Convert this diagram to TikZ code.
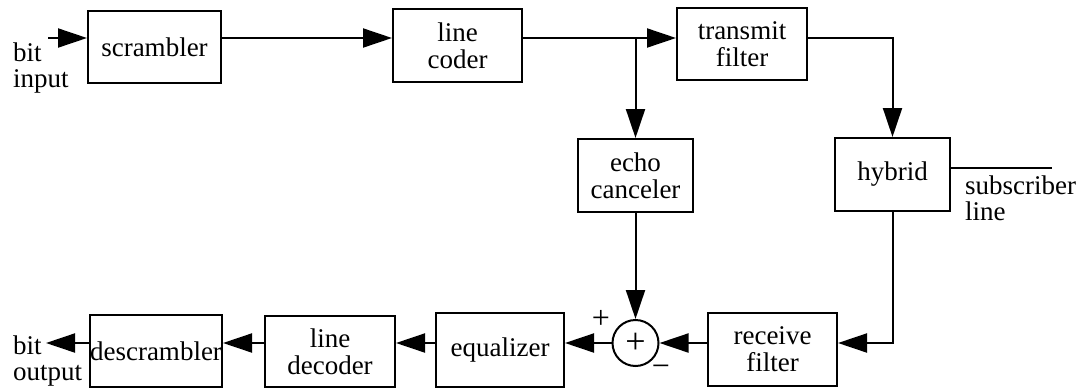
\documentclass[tikz,border=0pt]{standalone}
\usepackage{fontspec}
\setmainfont{Liberation Serif}
\usetikzlibrary{arrows.meta,calc}
\begin{document}
\begin{tikzpicture}[x=1pt,y=-1pt,
  blk/.style={draw,line width=2pt,inner sep=0pt,align=center,
    font=\fontsize{27}{27}\selectfont},
  sumnode/.style={draw,circle,line width=2pt,inner sep=0pt,minimum size=46pt,
    font=\fontsize{36}{36}\selectfont},
  arr/.style={line width=2pt,-{Triangle[length=29pt,width=19pt]}},
  wire/.style={line width=2pt},
  lbl/.style={inner sep=0pt,align=left,anchor=north west,
    font=\fontsize{27}{26}\selectfont},
  sign/.style={inner sep=0pt,font=\fontsize{32}{32}\selectfont}]
\useasboundingbox (0,0) rectangle (1079,389);

% transmit path
\node[blk,minimum width=133pt,minimum height=72pt] (scr) at (154.5,47) {scrambler};
\node[blk,minimum width=129pt,minimum height=73pt] (lc) at (457.5,45.5) {line\\coder};
\node[blk,minimum width=130pt,minimum height=72pt] (tf) at (742,44) {transmit\\filter};
\node[blk,minimum width=115pt,minimum height=73pt] (echo) at (635.5,175.5) {echo\\canceler};
\node[blk,minimum width=115pt,minimum height=73pt] (hyb) at (892.5,174.5) {hybrid};

% receive path
\node[blk,minimum width=132pt,minimum height=72pt] (ds) at (156,351) {descrambler};
\node[blk,minimum width=130pt,minimum height=71pt] (ld) at (330,351.5) {line\\decoder};
\node[blk,minimum width=128pt,minimum height=74pt] (eq) at (500,350) {equalizer};
\node[sumnode] (sum) at (635.5,343) {+};
\node[blk,minimum width=129pt,minimum height=73pt] (rf) at (772.5,349.5) {receive\\filter};

% signal rows and free ends
\coordinate (r1) at (0,38);
\coordinate (r2) at (0,343);
\coordinate (bitin) at (48,38);
\coordinate (bitout) at (46,343);
\coordinate (subl) at (1052,168);

% labels
\node[lbl] (inlbl) at (13,43) {bit\\input};
\node[lbl] (outlbl) at (13,336) {bit\\output};
\node[lbl] (sublbl) at (965,176) {subscriber\\line};
\node[sign] (plus) at (601,319) {+};
\node[sign] (minus) at (661,371) {−};

% connectors
\draw[arr] (bitin) -- (bitin -| scr.west);
\draw[arr] (scr.east |- r1) -- (lc.west |- r1);
\draw[arr] (lc.east |- r1) -- (tf.west |- r1);
\draw[arr] (echo.north |- r1) -- (echo.north);
\draw[arr] (tf.east |- r1) -| (hyb.north);
\draw[wire] (hyb.east |- subl) -- (subl);
\draw[arr] (hyb.south) |- (rf.east |- r2);
\draw[arr] (echo.south) -- (sum.north);
\draw[arr] (rf.west |- r2) -- (sum.east);
\draw[arr] (sum.west) -- (eq.east |- r2);
\draw[arr] (eq.west |- r2) -- (ld.east |- r2);
\draw[arr] (ld.west |- r2) -- (ds.east |- r2);
\draw[arr] (ds.west |- r2) -- (bitout);
\end{tikzpicture}
\end{document}
